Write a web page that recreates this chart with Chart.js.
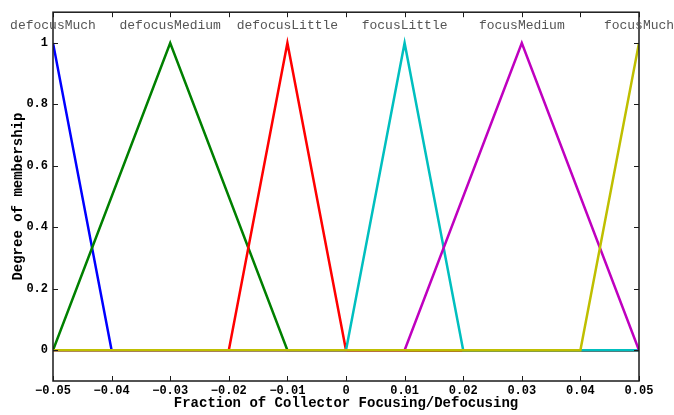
<!DOCTYPE html>
<html>
<head>
<meta charset="utf-8">
<script src="https://cdn.jsdelivr.net/npm/chart.js@4.4.1/dist/chart.umd.min.js"></script>
<style>
  html, body { margin: 0; padding: 0; background: #fff; }
  #wrap { width: 674px; height: 415px; }
</style>
</head>
<body>
<div id="wrap"><canvas id="mfChart"></canvas></div>
<script>
// membership functions, breakpoints (x, degree)
var mfNames = ["defocusMuch", "defocusMedium", "defocusLittle", "focusLittle", "focusMedium", "focusMuch"];
var mfPeaks = [-0.05, -0.03, -0.01, 0.01, 0.03, 0.05];
var defocusMuchX = [-0.05, -0.04, 0.05];
var defocusMuchY = [1, 0, 0];
var defocusMediumX = [-0.05, -0.03, -0.01, 0.05];
var defocusMediumY = [0, 1, 0, 0];
var defocusLittleX = [-0.05, -0.02, -0.01, 0, 0.05];
var defocusLittleY = [0, 0, 1, 0, 0];
var focusLittleX = [-0.05, 0, 0.01, 0.02, 0.05];
var focusLittleY = [0, 0, 1, 0, 0];
var focusMediumX = [-0.05, 0.01, 0.03, 0.05];
var focusMediumY = [0, 0, 1, 0];
var focusMuchX = [-0.05, 0.04, 0.05];
var focusMuchY = [0, 0, 1];
var xTicks = [-0.05, -0.04, -0.03, -0.02, -0.01, 0, 0.01, 0.02, 0.03, 0.04, 0.05];
var yTicks = [0, 0.2, 0.4, 0.6, 0.8, 1];

var mfX = [defocusMuchX, defocusMediumX, defocusLittleX, focusLittleX, focusMediumX, focusMuchX];
var mfY = [defocusMuchY, defocusMediumY, defocusLittleY, focusLittleY, focusMediumY, focusMuchY];
var colors = ["#0000ff", "#008000", "#ff0000", "#00bfbf", "#bf00bf", "#bfbf00"];

function toPoints(xs, ys) {
	var pts = [];
	for (var i = 0; i < xs.length; i++) {
		pts.push({x: xs[i], y: ys[i]});
	}
	return pts;
}

var datasets = [];
for (var i = 0; i < mfNames.length; i++) {
	datasets.push({
		label: mfNames[i],
		data: toPoints(mfX[i], mfY[i]),
		borderColor: colors[i],
		backgroundColor: colors[i],
		borderWidth: 2.5,
		pointRadius: 0,
		showLine: true,
		tension: 0,
		order: mfNames.length - i   // later MFs are drawn on top, like MATLAB
	});
}

function fmtTick(v) {
	if (Math.abs(v) < 1e-9) return "0";
	var s = Math.abs(v) >= 0.015 || Math.abs(v) < 0.1 ? String(+v.toFixed(2)) : String(v);
	return s.replace("-", "\u2212");
}

var monoBold = {family: "'Liberation Mono', 'DejaVu Sans Mono', monospace", size: 12, weight: "bold"};

var frame = {
	id: "frame",
	afterDatasetsDraw: function(chart) {
		var ctx = chart.ctx;
		var a = chart.chartArea;
		var xs = chart.scales.x, ys = chart.scales.y;
		ctx.save();
		ctx.strokeStyle = "#1a1a1a";
		ctx.lineWidth = 1.5;
		ctx.strokeRect(a.left, a.top, a.right - a.left, a.bottom - a.top);
		ctx.lineWidth = 1;
		ctx.beginPath();
		xTicks.forEach(function(v) {
			var px = Math.round(xs.getPixelForValue(v)) + 0.5;
			ctx.moveTo(px, a.bottom); ctx.lineTo(px, a.bottom - 5);
			ctx.moveTo(px, a.top); ctx.lineTo(px, a.top + 5);
		});
		yTicks.forEach(function(v) {
			var py = Math.round(ys.getPixelForValue(v)) + 0.5;
			ctx.moveTo(a.left, py); ctx.lineTo(a.left + 5, py);
			ctx.moveTo(a.right, py); ctx.lineTo(a.right - 5, py);
		});
		ctx.stroke();

		// MF names above each peak
		ctx.fillStyle = "#555555";
		ctx.font = "13px 'Liberation Mono', monospace";
		ctx.textAlign = "center";
		ctx.textBaseline = "middle";
		for (var i = 0; i < mfNames.length; i++) {
			ctx.fillText(mfNames[i], xs.getPixelForValue(mfPeaks[i]), 26);
		}
		ctx.restore();
	}
};

new Chart(document.getElementById("mfChart"), {
	type: "scatter",
	data: {datasets: datasets},
	options: {
		responsive: true,
		maintainAspectRatio: false,
		animation: false,
		layout: {padding: {left: 0, top: 10, right: 35, bottom: 0}},
		plugins: {
			legend: {display: false},
			tooltip: {enabled: false}
		},
		scales: {
			x: {
				type: "linear",
				min: -0.05,
				max: 0.05,
				afterBuildTicks: function(scale) {
					scale.ticks = xTicks.map(function(v) { return {value: v}; });
				},
				afterFit: function(scale) { scale.height = 34; },
				grid: {display: false, drawTicks: false},
				border: {display: false},
				ticks: {
					color: "#000",
					font: monoBold,
					padding: 3,
					maxRotation: 0,
					autoSkip: false,
					callback: function(v) { return fmtTick(v); }
				},
				title: {
					display: true,
					text: "Fraction of Collector Focusing/Defocusing",
					color: "#000",
					font: {family: monoBold.family, size: 14, weight: "bold"},
					padding: {top: 0, bottom: 3}
				}
			},
			y: {
				type: "linear",
				min: -0.1,
				max: 1.1,
				afterBuildTicks: function(scale) {
					scale.ticks = yTicks.map(function(v) { return {value: v}; });
				},
				afterFit: function(scale) { scale.width = 53; },
				grid: {display: false, drawTicks: false},
				border: {display: false},
				ticks: {
					color: "#000",
					font: monoBold,
					padding: 5,
					autoSkip: false,
					callback: function(v) { return fmtTick(v); }
				},
				title: {
					display: true,
					text: "Degree of membership",
					color: "#000",
					font: {family: monoBold.family, size: 14, weight: "bold"},
					padding: {top: 10, bottom: 0}
				}
			}
		}
	},
	plugins: [frame]
});
</script>
</body>
</html>
